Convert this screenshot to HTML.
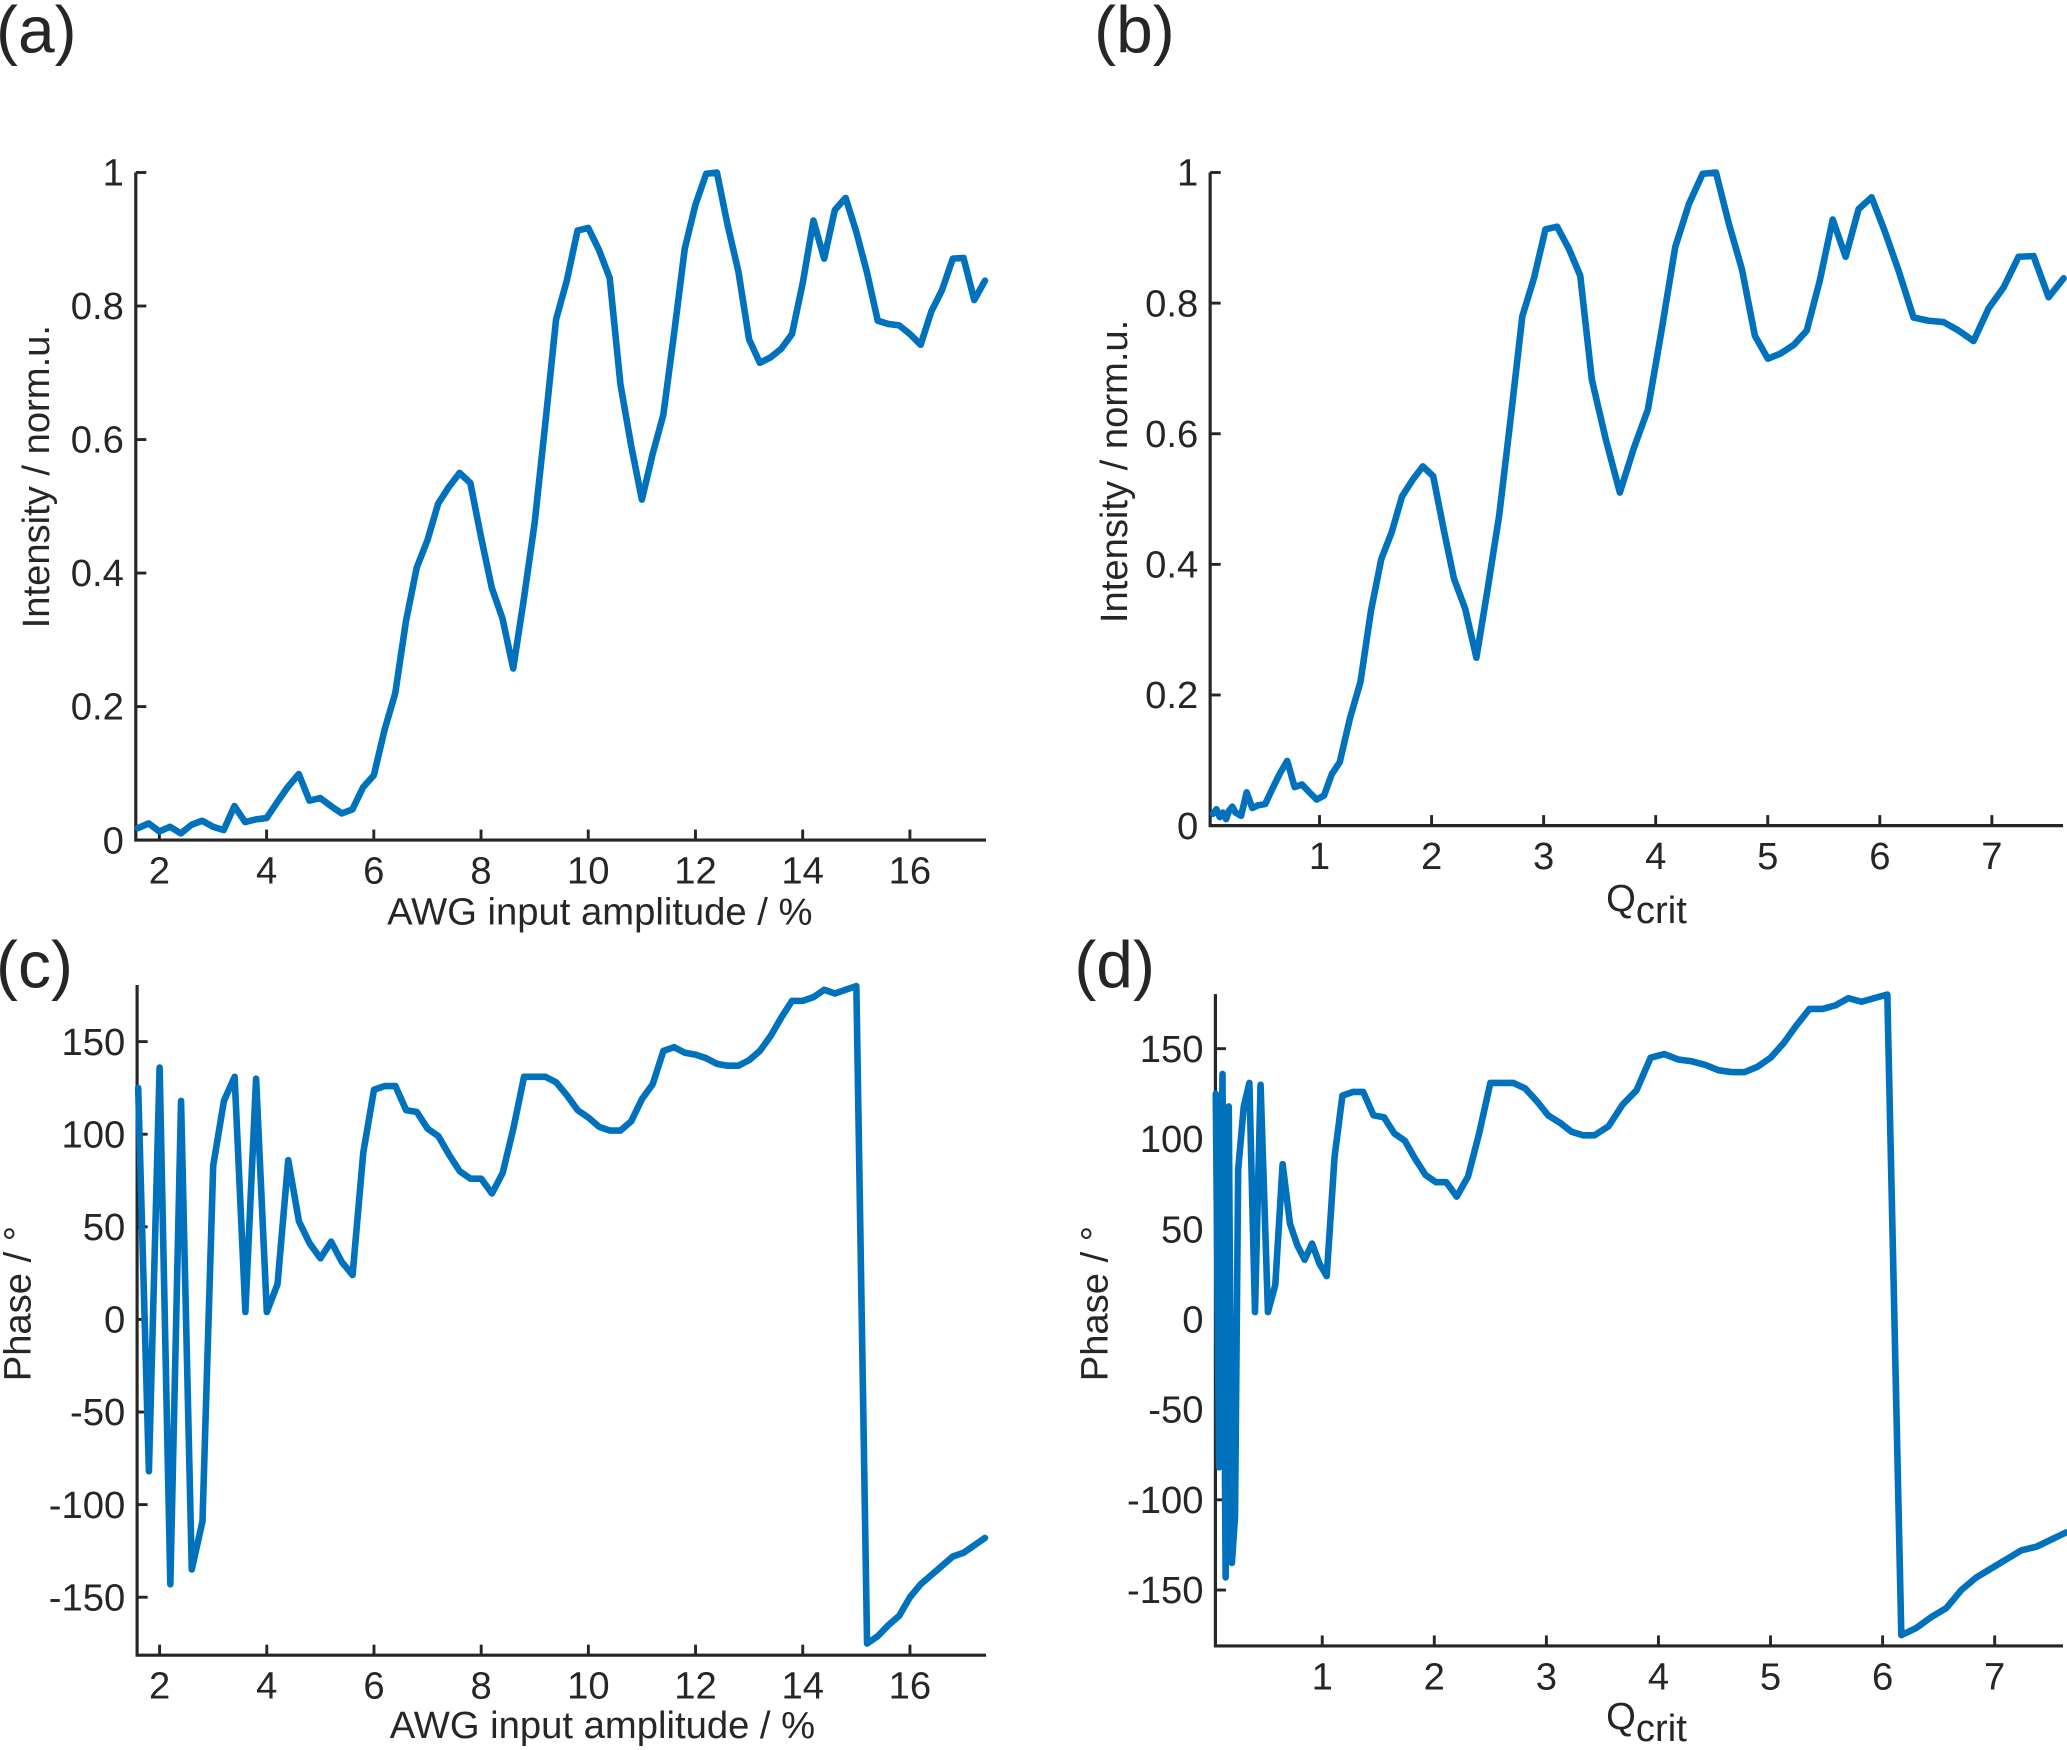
<!DOCTYPE html>
<html><head><meta charset="utf-8"><style>
html,body{margin:0;padding:0;background:#fff;}
svg{display:block;}
text{font-family:"Liberation Sans",Arial,sans-serif;fill:#262626;}
</style></head><body>
<svg id="fig" width="2067" height="1750" viewBox="0 0 1568 1329" preserveAspectRatio="none" xmlns="http://www.w3.org/2000/svg"></svg>
<script>
// ---- data ----
const amplitude = [1.6,1.8,2.0,2.2,2.4,2.6,2.8,3.0,3.2,3.4,3.6,3.8,4.0,4.2,4.4,4.6,4.8,5.0,5.2,5.4,5.6,5.8,6.0,6.2,6.4,6.6,6.8,7.0,7.2,7.4,7.6,7.8,8.0,8.2,8.4,8.6,8.8,9.0,9.2,9.4,9.6,9.8,10.0,10.2,10.4,10.6,10.8,11.0,11.2,11.4,11.6,11.8,12.0,12.2,12.4,12.6,12.8,13.0,13.2,13.4,13.6,13.8,14.0,14.2,14.4,14.6,14.8,15.0,15.2,15.4,15.6,15.8,16.0,16.2,16.4,16.6,16.8,17.0,17.2,17.4];
const intensity = [0.018,0.025,0.013,0.02,0.01,0.023,0.029,0.02,0.015,0.051,0.027,0.031,0.033,0.057,0.08,0.099,0.059,0.063,0.051,0.04,0.046,0.079,0.097,0.165,0.22,0.328,0.408,0.449,0.504,0.529,0.55,0.535,0.454,0.378,0.332,0.257,0.362,0.475,0.625,0.78,0.838,0.913,0.917,0.884,0.842,0.683,0.591,0.51,0.578,0.637,0.758,0.886,0.952,0.998,1.0,0.921,0.852,0.75,0.715,0.723,0.736,0.758,0.834,0.928,0.871,0.944,0.962,0.911,0.85,0.778,0.773,0.771,0.758,0.742,0.792,0.824,0.871,0.872,0.809,0.838];
const phase = [125,-82,136,-143,118,-135,-109,83,118,131,4,130,4,19,86,53,41,33,42,31,24,90,124,126,126,113,112,103,99,89,80,76,76,68,79,103,131,131,131,128,121,113,109,104,102,102,107,119,127,145,147,144,143,141,138,137,137,140,145,153,163,172,172,174,178,176,178,180,-175,-171,-165,-160,-150,-143,-138,-133,-128,-126,-122,-118];
const calAmp = [1.6,2.0,3.0,3.8,5.6,6.0,8.2,8.8,10.6,11.4,12.3,15.1,17.4];
const calQ   = [0.05,0.11,0.25,0.45,1.04,1.18,2.2,2.5,3.43,3.93,4.48,6.1,7.64];
const ticksIntensity = [0,0.2,0.4,0.6,0.8,1];
const tickLabelsIntensity = ["0","0.2","0.4","0.6","0.8","1"];
const ticksPhase = [-150,-100,-50,0,50,100,150];
const ticksAmp = [2,4,6,8,10,12,14,16];
const ticksQ = [1,2,3,4,5,6,7];

function toQ(a){
  for(let i=0;i<calAmp.length-1;i++){
    if(a<=calAmp[i+1]||i===calAmp.length-2){
      const t=(a-calAmp[i])/(calAmp[i+1]-calAmp[i]);
      return calQ[i]+t*(calQ[i+1]-calQ[i]);
    }
  }
}
const qcrit = amplitude.map(toQ);

const NS="http://www.w3.org/2000/svg";
const svg=document.getElementById('fig');
function mk(tag,attrs,parent){const e=document.createElementNS(NS,tag);for(const k in attrs)e.setAttribute(k,attrs[k]);(parent||svg).appendChild(e);return e;}

function panel(cfg){
  const g=mk('g',{});
  
  
  const sx=v=>cfg.x0+(v-cfg.xmin)/(cfg.xmax-cfg.xmin)*(cfg.x1-cfg.x0);
  const sy=v=>cfg.y0-(v-cfg.ymin)/(cfg.ymax-cfg.ymin)*(cfg.y0-cfg.y1);
  const ax=mk('path',{d:`M${cfg.x0},${cfg.y1} L${cfg.x0},${cfg.y0} L${cfg.x1},${cfg.y0}`,fill:'none',stroke:'#262626','stroke-width':2.4},g);
  
  
  cfg.xt.forEach((v,i)=>{
    const x=sx(v);
    const t=mk('line',{x1:x,x2:x,y1:cfg.y0,y2:cfg.y0-8,stroke:'#262626','stroke-width':2.2},g);
    
    
    const l=mk('text',{x:x,y:cfg.y0+33,'text-anchor':'middle','font-size':29},g);
    l.textContent=String(v);
    
    
  });
  cfg.yt.forEach((v,i)=>{
    const y=sy(v);
    const t=mk('line',{x1:cfg.x0,x2:cfg.x0+8,y1:y,y2:y,stroke:'#262626','stroke-width':2.2},g);
    
    
    const l=mk('text',{x:cfg.x0-9,y:y+10,'text-anchor':'end','font-size':29},g);
    l.textContent=cfg.ytl?cfg.ytl[i]:String(v);
    
    
  });
  let d='';
  cfg.xs.forEach((xv,i)=>{d+=(i?'L':'M')+sx(xv).toFixed(2)+','+sy(cfg.ys[i]).toFixed(2);});
  const p=mk('path',{d:d,fill:'none',stroke:'#0072BD','stroke-width':5,'stroke-linejoin':'round','stroke-linecap':'round'},g);
  
  
  const yl=mk('text',{x:0,y:0,'text-anchor':'middle','font-size':29,transform:`translate(${cfg.ylx},${cfg.yly}) rotate(-90)`},g);
  yl.textContent=cfg.ylabel;
  
  
  const xl=mk('text',{x:cfg.xlx,y:cfg.xly,'text-anchor':'middle','font-size':29},g);
  if(cfg.q){
    const a=mk('tspan',{},xl);a.textContent='Q';
    const b=mk('tspan',{dy:9},xl);b.textContent='crit';
  } else xl.textContent=cfg.xlabel;
  
  
  const pl=mk('text',{x:cfg.plx,y:cfg.ply,'font-size':50},g);
  pl.textContent=cfg.plabel;
  
  
}

panel({name:'panel-a-intensity-vs-amplitude',x0:103,x1:748,y0:638,y1:131,xmin:1.56,xmax:17.42,ymin:0,ymax:1,
  xt:ticksAmp,yt:ticksIntensity,ytl:tickLabelsIntensity,xs:amplitude,ys:intensity,
  ylabel:'Intensity / norm.u.',ylx:37,yly:362,xlabel:'AWG input amplitude / %',xlx:455,xly:702,plabel:'(a)',plx:-3,ply:40});
panel({name:'panel-b-intensity-vs-qcrit',x0:918,x1:1565,y0:627,y1:131,xmin:0.024,xmax:7.635,ymin:0,ymax:1,
  xt:ticksQ,yt:ticksIntensity,ytl:tickLabelsIntensity,xs:qcrit,ys:intensity,
  ylabel:'Intensity / norm.u.',ylx:855,yly:358,q:true,xlx:1249,xly:692,plabel:'(b)',plx:830,ply:40});
panel({name:'panel-c-phase-vs-amplitude',x0:104,x1:748,y0:1257,y1:748,xmin:1.58,xmax:17.42,ymin:-181.3,ymax:180.6,
  xt:ticksAmp,yt:ticksPhase,xs:amplitude,ys:phase,
  ylabel:'Phase / °',ylx:23,yly:990,xlabel:'AWG input amplitude / %',xlx:457,xly:1320,plabel:'(c)',plx:-3,ply:750});
panel({name:'panel-d-phase-vs-qcrit',x0:922,x1:1565,y0:1250,y1:755,xmin:0.047,xmax:7.61,ymin:-181,ymax:180.2,
  xt:ticksQ,yt:ticksPhase,xs:qcrit,ys:phase,
  ylabel:'Phase / °',ylx:840,yly:990,q:true,xlx:1249,xly:1313,plabel:'(d)',plx:815,ply:750});
</script>
</body></html>
